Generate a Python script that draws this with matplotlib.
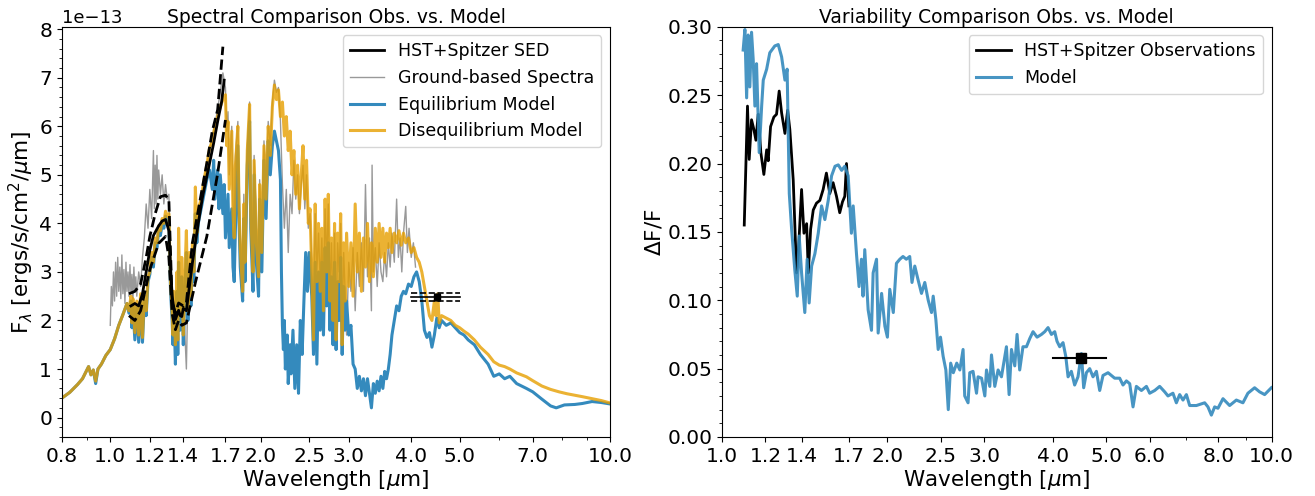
import numpy as np
import matplotlib
matplotlib.use("Agg")
import matplotlib.pyplot as plt
from matplotlib.ticker import FixedLocator, FixedFormatter, NullFormatter, AutoMinorLocator, LogLocator

plt.rcParams['font.family'] = ['DejaVu Sans']
plt.rcParams['font.size'] = 13.5
plt.rcParams['xtick.labelsize'] = 14.5
plt.rcParams['ytick.labelsize'] = 14.5
plt.rcParams['axes.labelsize'] = 15.5

SCALE = 1e-13  # flux values below are in units of 1e-13 ergs/s/cm^2/um

# ---------------- Left panel: spectra ----------------
diseq_wl = [0.80, 0.83, 0.86, 0.88, 0.895, 0.905, 0.915, 0.925, 0.935, 0.945, 0.96, 0.98, 1.00, 1.02, 1.04, 1.06, 1.08, 1.09, 1.10, 1.105,
            1.11, 1.12, 1.13, 1.14, 1.15, 1.16, 1.17, 1.18, 1.19, 1.20, 1.21, 1.22, 1.23, 1.24, 1.25, 1.26, 1.27, 1.28, 1.29, 1.30,
            1.31, 1.315, 1.32, 1.33, 1.335, 1.34, 1.35, 1.36, 1.365, 1.37, 1.38, 1.39, 1.40, 1.41, 1.42, 1.43, 1.44, 1.45, 1.46, 1.47,
            1.48, 1.49, 1.50, 1.52, 1.54, 1.56, 1.58, 1.60, 1.62, 1.64, 1.66, 1.68, 1.70, 1.71, 1.72, 1.73, 1.75, 1.76, 1.77, 1.78,
            1.80, 1.81, 1.82, 1.84, 1.85, 1.86, 1.88, 1.90, 1.91, 1.93, 1.94, 1.96, 1.98, 1.99, 2.01, 2.03, 2.05, 2.07, 2.09, 2.11,
            2.13, 2.15, 2.17, 2.19, 2.21, 2.23, 2.25, 2.27, 2.29, 2.31, 2.33, 2.35, 2.37, 2.39, 2.41, 2.43, 2.45, 2.47, 2.49, 2.51,
            2.53, 2.55, 2.57, 2.59, 2.61, 2.63, 2.65, 2.67, 2.69, 2.71, 2.73, 2.75, 2.77, 2.79, 2.81, 2.83, 2.85, 2.87, 2.89, 2.91,
            2.93, 2.95, 2.97, 3.00, 3.03, 3.06, 3.09, 3.12, 3.15, 3.18, 3.21, 3.24, 3.27, 3.30, 3.33, 3.36, 3.39, 3.42, 3.45, 3.48,
            3.51, 3.54, 3.57, 3.60, 3.63, 3.66, 3.70, 3.74, 3.78, 3.82, 3.86, 3.90, 3.95, 4.00, 4.05, 4.10, 4.15, 4.20, 4.25, 4.30,
            4.35, 4.40, 4.45, 4.48, 4.52, 4.55, 4.60, 4.70, 4.80, 4.90, 5.00, 5.10, 5.20, 5.35, 5.50, 5.70, 5.85, 6.00, 6.15, 6.30,
            6.50, 6.80, 7.00, 7.30, 7.60, 7.90, 8.20, 8.50, 8.80, 9.20, 9.60, 10.0]
diseq_flux = [0.40, 0.52, 0.68, 0.80, 0.95, 1.05, 0.88, 0.98, 0.75, 1.00, 1.10, 1.28, 1.40, 1.62, 1.90, 2.12, 2.35, 2.20, 2.50, 1.95,
              2.45, 1.75, 2.40, 1.70, 2.55, 1.65, 2.50, 2.20, 2.90, 3.00, 3.40, 3.20, 3.70, 3.60, 3.95, 3.85, 4.10, 4.00, 4.25, 4.15,
              4.20, 3.50, 2.80, 2.20, 1.70, 2.60, 1.50, 3.00, 1.60, 3.90, 2.10, 3.30, 1.70, 2.90, 3.85, 2.20, 3.40, 2.50, 3.60, 3.00,
              4.75, 3.80, 4.30, 4.50, 4.90, 5.20, 5.55, 5.70, 6.00, 6.20, 6.40, 6.55, 6.65, 5.60, 6.10, 4.70, 5.90, 4.20, 3.70, 5.20,
              6.00, 4.30, 3.50, 2.60, 4.40, 3.20, 5.50, 6.45, 4.20, 3.00, 5.30, 3.60, 2.90, 4.80, 3.40, 5.60, 4.50, 6.00, 5.40, 6.40,
              6.85, 6.55, 6.75, 6.20, 6.50, 5.80, 6.20, 5.50, 5.90, 5.00, 5.50, 4.60, 5.20, 4.30, 5.00, 5.60, 4.50, 5.30, 4.00, 4.30,
              3.00, 1.60, 4.40, 2.80, 4.00, 2.60, 3.90, 2.20, 4.50, 3.00, 4.60, 2.40, 3.70, 2.00, 4.00, 1.60, 3.80, 2.80, 4.20, 1.50,
              3.60, 2.40, 3.80, 2.70, 3.60, 2.50, 4.40, 3.00, 3.80, 2.60, 3.70, 3.10, 4.00, 2.80, 3.60, 2.90, 3.90, 3.20, 4.00, 3.30,
              3.90, 3.20, 3.80, 3.50, 3.90, 3.40, 3.80, 3.60, 3.85, 3.55, 3.80, 3.60, 3.70, 3.40, 3.50, 3.30, 3.20, 3.00, 2.70, 2.40,
              2.10, 2.00, 2.40, 2.10, 2.55, 1.95, 2.10, 2.05, 2.00, 1.90, 1.85, 1.78, 1.72, 1.60, 1.45, 1.30, 1.15, 1.08, 1.05, 1.00,
              0.92, 0.84, 0.76, 0.65, 0.58, 0.53, 0.49, 0.46, 0.43, 0.39, 0.35, 0.30]

eq_wl = [0.80, 0.83, 0.86, 0.88, 0.895, 0.905, 0.915, 0.925, 0.935, 0.945, 0.96, 0.98, 1.00, 1.02, 1.04, 1.06, 1.08, 1.09, 1.10, 1.105,
         1.11, 1.12, 1.13, 1.14, 1.15, 1.16, 1.17, 1.18, 1.19, 1.20, 1.21, 1.22, 1.23, 1.24, 1.25, 1.26, 1.27, 1.28, 1.29, 1.30,
         1.31, 1.315, 1.32, 1.33, 1.335, 1.34, 1.35, 1.36, 1.365, 1.37, 1.38, 1.39, 1.40, 1.41, 1.42, 1.43, 1.44, 1.45, 1.46, 1.47,
         1.48, 1.49, 1.50, 1.52, 1.54, 1.56, 1.58, 1.60, 1.61, 1.62, 1.64, 1.65, 1.66, 1.68, 1.69, 1.70, 1.72, 1.73, 1.75, 1.76,
         1.77, 1.78, 1.80, 1.81, 1.82, 1.84, 1.85, 1.86, 1.88, 1.90, 1.91, 1.93, 1.94, 1.96, 1.98, 1.99, 2.01, 2.03, 2.05, 2.07,
         2.09, 2.11, 2.13, 2.15, 2.17, 2.19, 2.20, 2.21, 2.22, 2.23, 2.24, 2.26, 2.27, 2.29, 2.30, 2.32, 2.34, 2.36, 2.38, 2.40,
         2.42, 2.44, 2.46, 2.48, 2.50, 2.53, 2.55, 2.57, 2.59, 2.61, 2.63, 2.65, 2.67, 2.69, 2.71, 2.73, 2.75, 2.77, 2.79, 2.81,
         2.83, 2.85, 2.87, 2.89, 2.91, 2.93, 2.95, 2.97, 3.00, 3.03, 3.06, 3.09, 3.12, 3.15, 3.18, 3.21, 3.24, 3.27, 3.30, 3.33,
         3.36, 3.39, 3.42, 3.45, 3.48, 3.51, 3.54, 3.57, 3.60, 3.63, 3.66, 3.70, 3.74, 3.78, 3.82, 3.86, 3.90, 3.95, 4.00, 4.05,
         4.10, 4.15, 4.20, 4.25, 4.30, 4.35, 4.40, 4.45, 4.50, 4.55, 4.60, 4.70, 4.80, 4.90, 5.00, 5.10, 5.20, 5.35, 5.50, 5.70,
         5.85, 6.00, 6.15, 6.30, 6.50, 6.80, 7.00, 7.30, 7.60, 7.80, 8.10, 8.50, 8.80, 9.20, 9.60, 10.0]
eq_flux = [0.40, 0.52, 0.68, 0.80, 0.95, 1.05, 0.88, 0.98, 0.70, 1.00, 1.10, 1.28, 1.40, 1.62, 1.90, 2.12, 2.35, 2.15, 2.40, 1.85,
           2.30, 1.60, 2.30, 1.55, 2.45, 1.55, 2.40, 2.10, 2.80, 2.95, 3.30, 3.10, 3.60, 3.50, 3.85, 3.75, 4.00, 3.90, 4.15, 4.05,
           4.05, 3.30, 2.60, 2.00, 1.50, 2.30, 1.10, 2.60, 1.30, 3.20, 1.80, 2.90, 1.50, 2.60, 3.40, 2.00, 3.00, 2.30, 3.30, 2.80,
           4.20, 3.60, 4.00, 4.30, 4.60, 4.90, 5.10, 4.70, 5.30, 4.50, 5.10, 4.30, 5.00, 4.20, 4.80, 3.70, 4.60, 3.50, 4.30, 3.10,
           2.80, 3.90, 5.60, 4.00, 3.10, 2.40, 4.10, 2.80, 5.20, 6.10, 3.90, 2.60, 5.00, 3.20, 2.50, 4.50, 3.00, 5.30, 4.10, 5.70,
           5.00, 5.60, 5.90, 5.70, 5.50, 4.90, 3.00, 1.90, 1.40, 2.00, 1.00, 1.70, 0.70, 1.50, 0.90, 1.80, 0.60, 1.50, 0.50, 2.00,
           1.30, 2.40, 3.40, 2.60, 3.40, 2.50, 1.30, 3.20, 1.10, 3.00, 1.80, 3.20, 1.70, 3.50, 2.30, 3.60, 1.80, 2.90, 1.50, 3.20,
           1.40, 2.80, 2.00, 3.30, 1.30, 2.70, 1.80, 2.40, 1.70, 1.90, 1.10, 1.00, 0.60, 0.85, 0.55, 0.80, 0.45, 0.80, 0.50, 0.20,
           0.70, 0.50, 0.75, 0.55, 0.85, 0.60, 0.95, 0.80, 1.00, 1.30, 1.70, 2.00, 2.30, 2.20, 2.50, 2.60, 2.55, 2.75, 2.70, 2.90,
           3.00, 2.80, 2.40, 1.80, 1.65, 1.75, 1.45, 1.70, 2.05, 1.85, 2.00, 1.90, 1.95, 1.85, 1.75, 1.70, 1.60, 1.50, 1.30, 1.10,
           0.85, 0.90, 0.80, 0.85, 0.70, 0.60, 0.53, 0.38, 0.24, 0.20, 0.26, 0.27, 0.29, 0.33, 0.31, 0.28]

ground_wl = [1.00, 1.005, 1.01, 1.015, 1.02, 1.025, 1.03, 1.035, 1.04, 1.045, 1.05, 1.055, 1.06, 1.065, 1.07, 1.075, 1.08, 1.085, 1.09, 1.095,
             1.10, 1.105, 1.11, 1.115, 1.12, 1.125, 1.13, 1.14, 1.15, 1.16, 1.17, 1.18, 1.19, 1.20, 1.21, 1.22, 1.225, 1.23, 1.235, 1.24,
             1.245, 1.25, 1.26, 1.27, 1.28, 1.29, 1.30, 1.31, 1.32, 1.33, 1.34, 1.35, 1.36, 1.38, 1.40, 1.42, 1.43, 1.45, 1.48, 1.50,
             1.53, 1.56, 1.60, 1.63, 1.66, 1.68, 1.70, 1.71, 1.72, 1.73, 1.75, 1.76, 1.77, 1.78, 1.80, 1.81, 1.82, 1.84, 1.85, 1.86,
             1.88, 1.90, 1.91, 1.93, 1.94, 1.96, 1.98, 1.99, 2.01, 2.03, 2.05, 2.07, 2.09, 2.11, 2.13, 2.15, 2.17, 2.19, 2.21, 2.23,
             2.25, 2.27, 2.29, 2.31, 2.33, 2.35, 2.37, 2.39, 2.41, 2.43, 2.45, 2.47, 2.49, 2.51, 2.53, 2.55, 2.57, 2.59, 2.61, 2.63,
             2.65, 2.67, 2.69, 2.71, 2.73, 2.75, 2.77, 2.79, 2.81, 2.83, 2.85, 2.87, 2.89, 2.91, 2.93, 2.95, 2.97, 3.00, 3.03, 3.06,
             3.09, 3.12, 3.15, 3.18, 3.21, 3.24, 3.27, 3.30, 3.33, 3.34, 3.36, 3.39, 3.42, 3.45, 3.48, 3.51, 3.54, 3.57, 3.60, 3.63,
             3.66, 3.70, 3.74, 3.77, 3.80, 3.83, 3.86, 3.90, 3.93, 3.96, 4.00, 4.04, 4.08]
ground_flux = [1.90, 2.70, 2.30, 3.00, 2.40, 3.20, 2.50, 3.30, 2.60, 3.10, 2.45, 3.35, 2.55, 3.05, 2.35, 3.20, 2.60, 3.00, 2.50, 3.15,
               2.55, 2.95, 2.40, 3.10, 2.60, 2.90, 2.50, 3.00, 2.70, 3.30, 3.70, 4.40, 3.90, 4.70, 4.10, 5.50, 4.30, 5.20, 4.40, 5.40,
               4.50, 5.10, 4.60, 5.00, 4.40, 4.80, 4.50, 4.60, 3.40, 2.40, 2.00, 1.70, 2.60, 2.20, 2.50, 1.00, 2.60, 2.90, 3.60, 4.20,
               4.70, 5.20, 5.80, 6.20, 6.70, 7.10, 6.80, 5.90, 6.30, 5.00, 6.00, 4.40, 4.00, 5.40, 6.10, 4.60, 3.80, 2.90, 4.60, 3.50,
               5.60, 6.50, 4.40, 3.30, 5.40, 3.90, 3.20, 4.90, 3.70, 5.70, 4.70, 6.10, 5.60, 6.50, 6.95, 6.70, 6.80, 6.10, 4.80, 3.90,
               4.70, 3.40, 4.60, 4.20, 5.30, 4.50, 5.00, 4.20, 4.80, 5.20, 4.30, 5.00, 3.90, 4.20, 3.20, 2.00, 4.20, 3.00, 3.80, 2.80,
               3.70, 2.40, 4.30, 3.20, 4.40, 2.60, 3.60, 2.20, 3.80, 1.90, 3.60, 3.00, 4.00, 1.80, 3.40, 2.60, 1.70, 3.20, 2.60, 3.50,
               2.20, 3.40, 2.70, 3.60, 2.60, 4.80, 2.90, 3.70, 2.20, 5.20, 3.00, 3.50, 2.70, 3.60, 3.00, 2.80, 3.40, 2.90, 3.60, 3.10,
               3.80, 3.20, 4.50, 3.30, 3.70, 3.00, 3.80, 4.35, 3.40, 3.90, 3.30, 3.60, 3.10]

sed_wl = [1.10, 1.12, 1.14, 1.16, 1.18, 1.20, 1.22, 1.25, 1.27, 1.29, 1.31, 1.32, 1.33, 1.35, 1.37, 1.38, 1.39, 1.40, 1.42, 1.44,
          1.46, 1.50, 1.53, 1.57, 1.61, 1.64, 1.67, 1.69]
sed_flux = [2.30, 2.35, 2.30, 2.55, 3.00, 3.45, 3.75, 3.95, 4.05, 4.08, 3.85, 3.10, 2.50, 2.02, 2.21, 2.10, 2.08, 2.25, 2.20, 2.70,
            3.19, 4.00, 4.55, 5.10, 5.65, 6.10, 6.50, 6.95]
sed_hi_wl = [1.09, 1.12, 1.15, 1.18, 1.20, 1.23, 1.26, 1.29, 1.31, 1.32, 1.33, 1.35, 1.37, 1.40, 1.42, 1.46, 1.52, 1.56, 1.60, 1.64, 1.68]
sed_hi_flux = [2.55, 2.60, 2.75, 3.30, 3.73, 4.20, 4.55, 4.58, 4.48, 3.40, 2.36, 2.16, 2.36, 2.30, 2.36, 3.60, 4.60, 5.24, 5.90, 6.34, 7.64]
sed_lo_wl = [1.09, 1.12, 1.15, 1.20, 1.25, 1.29, 1.31, 1.33, 1.35, 1.37, 1.39, 1.42, 1.48, 1.56, 1.64, 1.70]
sed_lo_flux = [2.10, 2.00, 2.20, 3.05, 3.59, 3.73, 3.30, 2.14, 1.81, 2.00, 1.90, 1.95, 2.78, 3.73, 5.03, 6.13]

spitzer_wl = 4.5
spitzer_halfwidth = 0.5
spitzer_flux = 2.48
spitzer_err = 0.085

# ---------------- Right panel: variability ----------------
model_wl = [1.093, 1.101, 1.109, 1.116, 1.124, 1.132, 1.14, 1.148, 1.156, 1.164, 1.169, 1.181, 1.189, 1.206, 1.222, 1.248, 1.266, 1.284, 1.302, 1.314,
            1.326, 1.339, 1.357, 1.371, 1.382, 1.396, 1.415, 1.429, 1.441, 1.456, 1.476, 1.497, 1.518, 1.539, 1.561, 1.583, 1.606, 1.628, 1.651, 1.673,
            1.697, 1.720, 1.733, 1.757, 1.776, 1.794, 1.806, 1.819, 1.845, 1.871, 1.884, 1.911, 1.924, 1.952, 1.979, 2.00, 2.02, 2.05, 2.077, 2.107,
            2.135, 2.165, 2.196, 2.217, 2.243, 2.274, 2.307, 2.339, 2.373, 2.406, 2.423, 2.45, 2.474, 2.498, 2.526, 2.555, 2.581, 2.607, 2.636, 2.674,
            2.709, 2.746, 2.765, 2.804, 2.824, 2.863, 2.905, 2.924, 2.967, 3.008,
            3.029, 3.071, 3.093, 3.136, 3.180, 3.225, 3.293, 3.330, 3.363, 3.410,
            3.443, 3.481, 3.529, 3.581, 3.631, 3.681, 3.744, 3.813, 3.866, 3.920,
            3.976, 4.031, 4.070, 4.116, 4.174, 4.222, 4.263, 4.322, 4.382, 4.444,
            4.508, 4.551, 4.603, 4.667, 4.732, 4.800, 4.867, 4.935, 5.040, 5.111,
            5.182, 5.292, 5.366, 5.443, 5.519, 5.596, 5.675, 5.796, 5.919, 6.001,
            6.128, 6.257, 6.390, 6.479, 6.615, 6.710, 6.804, 6.899, 6.998, 7.095,
            7.297, 7.555, 7.660, 7.770, 7.878, 7.988, 8.157, 8.388, 8.627, 8.868,
            9.055, 9.313, 9.510, 9.712, 9.990]
model_dff = [0.283, 0.298, 0.248, 0.294, 0.256, 0.296, 0.276, 0.242, 0.273, 0.232, 0.208, 0.242, 0.261, 0.269, 0.281, 0.286, 0.287, 0.278, 0.261, 0.269,
             0.178, 0.152, 0.122, 0.103, 0.147, 0.120, 0.091, 0.130, 0.098, 0.125, 0.134, 0.149, 0.169, 0.159, 0.173, 0.191, 0.198, 0.199, 0.195, 0.198,
             0.191, 0.149, 0.169, 0.134, 0.110, 0.130, 0.103, 0.137, 0.093, 0.078, 0.120, 0.130, 0.076, 0.105, 0.081, 0.073, 0.108, 0.091, 0.127, 0.130,
             0.132, 0.130, 0.132, 0.113, 0.125, 0.115, 0.105, 0.113, 0.100, 0.091, 0.103, 0.086, 0.064, 0.073, 0.059, 0.049, 0.020, 0.054, 0.047, 0.054,
             0.049, 0.064, 0.030, 0.025, 0.047, 0.048, 0.032, 0.044, 0.043, 0.030,
             0.049, 0.037, 0.060, 0.037, 0.049, 0.044, 0.066, 0.031, 0.064, 0.052,
             0.075, 0.049, 0.066, 0.066, 0.072, 0.077, 0.073, 0.075, 0.077, 0.080,
             0.075, 0.077, 0.070, 0.066, 0.069, 0.059, 0.044, 0.048, 0.038, 0.044,
             0.061, 0.036, 0.047, 0.050, 0.044, 0.048, 0.034, 0.045, 0.047, 0.045,
             0.043, 0.043, 0.038, 0.041, 0.039, 0.022, 0.037, 0.034, 0.037, 0.032,
             0.034, 0.037, 0.033, 0.030, 0.032, 0.025, 0.031, 0.027, 0.031, 0.023,
             0.023, 0.025, 0.022, 0.016, 0.022, 0.021, 0.028, 0.023, 0.027, 0.025,
             0.032, 0.036, 0.033, 0.031, 0.036]

obs_wl = [1.098, 1.113, 1.121, 1.132, 1.143, 1.153, 1.164, 1.177, 1.192, 1.206, 1.214, 1.226, 1.243, 1.257, 1.271, 1.284, 1.302, 1.317, 1.329, 1.348,
          1.367, 1.377, 1.396, 1.41, 1.426, 1.436, 1.45, 1.466, 1.486, 1.507, 1.528, 1.549, 1.571, 1.593, 1.616, 1.638, 1.657, 1.673, 1.685, 1.702]
obs_dff = [0.155, 0.242, 0.203, 0.232, 0.225, 0.217, 0.236, 0.208, 0.192, 0.210, 0.202, 0.227, 0.234, 0.236, 0.253, 0.237, 0.222, 0.239, 0.225, 0.188,
           0.120, 0.134, 0.181, 0.149, 0.156, 0.120, 0.152, 0.166, 0.171, 0.173, 0.181, 0.193, 0.178, 0.186, 0.176, 0.164, 0.172, 0.176, 0.200, 0.169]

spitzer_dff = 0.058
spitzer_dff_err = 0.002

# ---------------- Figure ----------------
BLUE = '#348ABD'
ORANGE = '#E69F00'
GRAY = '#999999'

fig = plt.figure(figsize=(13.15, 4.96), dpi=100)
ax1 = fig.add_axes([0.047, 0.119, 0.417, 0.827])
ax2 = fig.add_axes([0.549, 0.119, 0.418, 0.827])

s = SCALE
ax1.plot(ground_wl, np.array(ground_flux) * s, color=GRAY, lw=1.0, label='Ground-based Spectra')
ax1.plot(eq_wl, np.array(eq_flux) * s, color=BLUE, lw=2.2, label='Equilibrium Model')
ax1.plot(diseq_wl, np.array(diseq_flux) * s, color=ORANGE, lw=2.2, alpha=0.8, label='Disequilibrium Model')
ax1.plot(sed_wl, np.array(sed_flux) * s, color='k', lw=2.0, label='HST+Spitzer SED')
ax1.plot(sed_hi_wl, np.array(sed_hi_flux) * s, color='k', lw=2.0, ls='--')
ax1.plot(sed_lo_wl, np.array(sed_lo_flux) * s, color='k', lw=2.0, ls='--')
sx = [spitzer_wl - spitzer_halfwidth, spitzer_wl + spitzer_halfwidth]
ax1.plot(sx, [spitzer_flux * s] * 2, color='k', lw=1.2)
ax1.plot(sx, [(spitzer_flux + spitzer_err) * s] * 2, color='k', lw=1.2, ls='--')
ax1.plot(sx, [(spitzer_flux - spitzer_err) * s] * 2, color='k', lw=1.2, ls='--')
ax1.errorbar([spitzer_wl], [spitzer_flux * s], yerr=[spitzer_err * s], fmt='s', color='k',
             ms=5, elinewidth=5, capsize=0)

ax1.set_xscale('log')
ax1.set_xlim(0.8, 10.0)
ax1.set_ylim(-0.4e-13, 8.05e-13)
xt1 = [0.8, 1.0, 1.2, 1.4, 1.7, 2.0, 2.5, 3.0, 4.0, 5.0, 7.0, 10.0]
ax1.xaxis.set_major_locator(FixedLocator(xt1))
ax1.xaxis.set_major_formatter(FixedFormatter(['%.1f' % t for t in xt1]))
ax1.xaxis.set_minor_locator(LogLocator(base=10, subs=np.arange(2, 10)))
ax1.xaxis.set_minor_formatter(NullFormatter())
ax1.yaxis.set_minor_locator(AutoMinorLocator(5))
ax1.yaxis.get_offset_text().set_fontsize(13)
ax1.set_xlabel(r'Wavelength [$\mu$m]', labelpad=2)
ax1.set_ylabel(r'F$_\lambda$ [ergs/s/cm$^2$/$\mu$m]', labelpad=2)
ax1.set_title('Spectral Comparison Obs. vs. Model', fontsize=13.5, pad=3)
h, l = ax1.get_legend_handles_labels()
order = [3, 0, 1, 2]
ax1.legend([h[i] for i in order], [l[i] for i in order], loc='upper right', fontsize=12.5)

ax2.plot(obs_wl, obs_dff, color='k', lw=2.0, label='HST+Spitzer Observations')
ax2.plot(model_wl, model_dff, color=BLUE, lw=2.2, alpha=0.9, label='Model')
ax2.plot([spitzer_wl - spitzer_halfwidth, spitzer_wl + spitzer_halfwidth], [spitzer_dff] * 2, color='k', lw=1.5)
ax2.errorbar([spitzer_wl], [spitzer_dff], yerr=[spitzer_dff_err], fmt='s', color='k', ms=7, capsize=0)
ax2.set_xscale('log')
ax2.set_xlim(1.0, 10.0)
ax2.set_ylim(0.0, 0.30)
xt2 = [1.0, 1.2, 1.4, 1.7, 2.0, 2.5, 3.0, 4.0, 5.0, 6.0, 8.0, 10.0]
ax2.xaxis.set_major_locator(FixedLocator(xt2))
ax2.xaxis.set_major_formatter(FixedFormatter(['%.1f' % t for t in xt2]))
ax2.xaxis.set_minor_locator(LogLocator(base=10, subs=np.arange(2, 10)))
ax2.xaxis.set_minor_formatter(NullFormatter())
ax2.yaxis.set_minor_locator(AutoMinorLocator(5))
ax2.set_xlabel(r'Wavelength [$\mu$m]', labelpad=2)
ax2.set_ylabel(r'$\Delta$F/F', labelpad=2)
ax2.set_title('Variability Comparison Obs. vs. Model', fontsize=13.5, pad=3)
ax2.legend(loc='upper right', fontsize=12.5)

fig.savefig('out.png', dpi=100)
